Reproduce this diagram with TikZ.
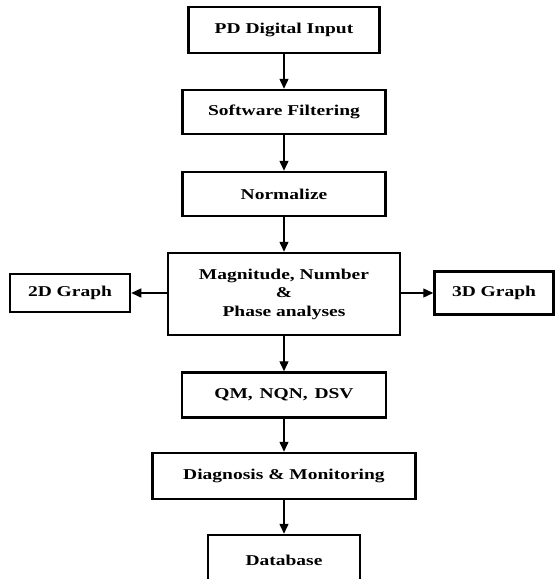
\documentclass[tikz,border=0pt]{standalone}
\usepackage{fontspec}
\setmainfont{Liberation Serif}[FakeStretch=1.3]
\usetikzlibrary{arrows.meta}

\begin{document}
\begin{tikzpicture}[x=1pt,y=-1pt]
  \tikzstyle{every node}=[draw,line width=2.5pt,align=center,inner sep=0pt,
    font=\fontsize{15}{18.5}\selectfont\bfseries]
  \tikzstyle{arr}=[line width=1.4pt,-{Triangle[length=10pt,width=9pt]}]
  \useasboundingbox (0,0) rectangle (559,579);
  \clip (0,0) rectangle (559,579);
  % main column
  \node[minimum width=191pt,minimum height=46pt] (input) at (284,30) {PD Digital Input};
  \node[minimum width=203pt,minimum height=44pt] (filter) at (284,112) {Software Filtering};
  \node[minimum width=203pt,minimum height=44pt] (norm) at (284,194) {Normalize};
  \node[minimum width=232pt,minimum height=82pt] (anal) at (284,294)
    {Magnitude, Number\\ \&\\ Phase analyses};
  \node[minimum width=204pt,minimum height=45pt] (qm) at (284,395)
    {QM,\hspace{0.45em}NQN,\hspace{0.45em}DSV};
  \node[minimum width=263pt,minimum height=46pt] (diag) at (284,476) {Diagnosis \& Monitoring};
  \node[minimum width=152pt,minimum height=50pt] (db) at (284,560) {Database};
  % side boxes
  \node[minimum width=120pt,minimum height=38pt] (g2d) at (70,293) {2D Graph};
  \node[minimum width=119pt,minimum height=43pt] (g3d) at (494,293) {3D Graph};

  \draw[arr] (input) -- (filter);
  \draw[arr] (filter) -- (norm);
  \draw[arr] (norm) -- (anal);
  \draw[arr] (anal) -- (qm);
  \draw[arr] (qm) -- (diag);
  \draw[arr] (diag) -- (db);
  \draw[arr] (anal.west |- g2d) -- (g2d);
  \draw[arr] (anal.east |- g3d) -- (g3d);
\end{tikzpicture}
\end{document}
